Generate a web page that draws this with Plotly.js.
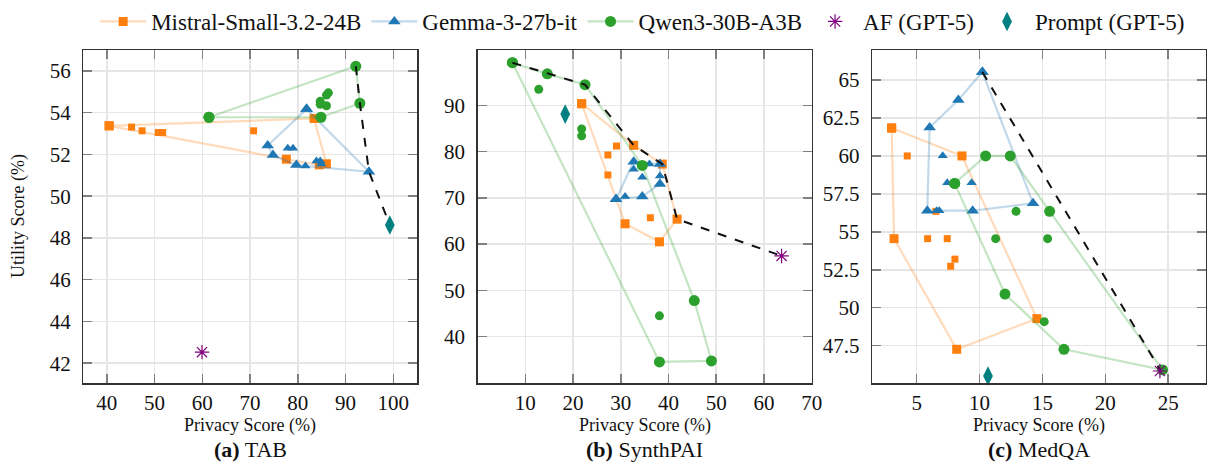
<!DOCTYPE html>
<html>
<head>
<meta charset="utf-8">
<script src="https://cdn.plot.ly/plotly-3.0.1.min.js"></script>
<style>html,body{margin:0;padding:0;background:#fff;}#chart{width:1208px;height:466px;}</style>
</head>
<body>
<div id="chart"></div>
<script>
// ---------- data ----------
const modelNames = ["Mistral-Small-3.2-24B", "Gemma-3-27b-it", "Qwen3-30B-A3B"];
const panelTitles = ["TAB", "SynthPAI", "MedQA"];
const panelLetters = ["(a)", "(b)", "(c)"];

// Panel (a) TAB
const tabMistralHullX = [40.5, 83.4, 86.0, 84.5, 77.6, 40.5];
const tabMistralHullY = [53.37, 53.72, 51.55, 51.5, 51.77, 53.37];
const tabMistralInX = [45.2, 47.4, 50.8, 51.7, 70.75];
const tabMistralInY = [53.31, 53.13, 53.05, 53.05, 53.13];
const tabGemmaHullX = [81.84, 94.9, 79.7, 74.8, 73.7, 81.84];
const tabGemmaHullY = [54.17, 51.17, 51.49, 51.97, 52.43, 54.17];
const tabGemmaInX = [77.9, 79.0, 81.6, 83.9, 84.7, 84.9];
const tabGemmaInY = [52.29, 52.29, 51.45, 51.69, 51.69, 51.54];
const tabQwenHullX = [61.4, 92.15, 93.0, 84.85, 61.4];
const tabQwenHullY = [53.78, 56.22, 54.45, 53.78, 53.78];
const tabQwenInX = [84.7, 84.7, 86.0, 86.0, 86.4];
const tabQwenInY = [54.54, 54.4, 54.33, 54.84, 54.95];
const tabFrontX = [92.15, 93.0, 94.9, 99.27];
const tabFrontY = [56.22, 54.45, 51.17, 48.62];
const tabAF = [59.94, 42.53];
const tabPrompt = [99.27, 48.62];

// Panel (b) SynthPAI
const spMistralHullX = [21.8, 32.7, 38.7, 41.8, 38.1, 30.9, 21.8];
const spMistralHullY = [90.35, 81.36, 77.3, 65.4, 60.5, 64.4, 90.35];
const spMistralInX = [29.1, 27.3, 27.3, 36.2];
const spMistralInY = [81.2, 79.27, 74.95, 65.7];
const spGemmaHullX = [29.0, 32.7, 38.2, 38.2, 34.5, 29.0];
const spGemmaHullY = [69.7, 77.8, 77.3, 73.0, 70.3, 69.7];
const spGemmaInX = [32.7, 36.0, 34.5, 38.2, 30.9];
const spGemmaInY = [76.2, 77.3, 74.45, 74.7, 70.3];
const spQwenHullX = [7.29, 14.6, 22.5, 34.5, 45.4, 49.0, 38.1, 7.29];
const spQwenHullY = [99.2, 96.8, 94.45, 77.0, 47.8, 34.77, 34.55, 99.2];
const spQwenInX = [12.8, 21.8, 21.8, 38.1];
const spQwenInY = [93.45, 84.9, 83.4, 44.5];
const spFrontX = [7.29, 22.5, 32.7, 38.7, 41.8, 63.7];
const spFrontY = [99.2, 94.45, 81.36, 77.3, 65.4, 57.45];
const spAF = [63.7, 57.45];
const spPrompt = [18.35, 88.1];

// Panel (c) MedQA
const mqMistralHullX = [3.01, 8.6, 14.56, 8.18, 3.2, 3.01];
const mqMistralHullY = [61.84, 60.0, 49.28, 47.26, 54.55, 61.84];
const mqMistralInX = [4.25, 5.87, 7.43, 8.04, 7.7, 6.53];
const mqMistralInY = [60.0, 54.55, 54.55, 53.2, 52.73, 56.35];
const mqGemmaHullX = [10.22, 14.25, 9.45, 5.84, 6.03, 8.31, 10.22];
const mqGemmaHullY = [65.53, 56.88, 56.39, 56.39, 61.88, 63.68, 65.53];
const mqGemmaInX = [7.07, 7.43, 9.37, 6.59, 6.8];
const mqGemmaInY = [60.01, 58.24, 58.24, 56.39, 56.39];
const mqQwenHullX = [8.02, 10.48, 12.44, 15.57, 24.55, 16.71, 12.02, 8.02];
const mqQwenHullY = [58.19, 60.0, 60.0, 56.35, 45.9, 47.26, 50.9, 58.19];
const mqQwenInX = [12.9, 11.28, 15.41, 15.14];
const mqQwenInY = [56.35, 54.55, 54.55, 49.08];
const mqFrontX = [10.22, 24.4];
const mqFrontY = [65.53, 45.85];
const mqAF = [24.34, 45.83];
const mqPrompt = [10.67, 45.5];

// axis ticks
const tabXTicks = [40, 50, 60, 70, 80, 90, 100];
const tabYTicks = [42, 44, 46, 48, 50, 52, 54, 56];
const spXTicks = [10, 20, 30, 40, 50, 60, 70];
const spYTicks = [40, 50, 60, 70, 80, 90];
const mqXTicks = [5, 10, 15, 20, 25];
const mqYTicks = [47.5, 50, 52.5, 55, 57.5, 60, 62.5, 65];
const mqYTickText = ["47.5", "50", "52.5", "55", "57.5", "60", "62.5", "65"];

// ---------- styles ----------
const FONT = "Liberation Serif, Times New Roman, serif";
const colors = ["#ff7f0e", "#1f77b4", "#2ca02c"];
const lineColors = ["rgba(255,127,14,0.28)", "rgba(31,119,180,0.28)", "rgba(44,160,44,0.28)"];
const symbols = ["square", "triangle-up", "circle"];
const hullSizes = [9, 11, 11];
const inSizes = [7, 9, 9];

const panels = [
  {xa: "x", ya: "y", models: [[tabMistralHullX, tabMistralHullY, tabMistralInX, tabMistralInY], [tabGemmaHullX, tabGemmaHullY, tabGemmaInX, tabGemmaInY], [tabQwenHullX, tabQwenHullY, tabQwenInX, tabQwenInY]], front: [tabFrontX, tabFrontY], af: tabAF, prompt: tabPrompt},
  {xa: "x2", ya: "y2", models: [[spMistralHullX, spMistralHullY, spMistralInX, spMistralInY], [spGemmaHullX, spGemmaHullY, spGemmaInX, spGemmaInY], [spQwenHullX, spQwenHullY, spQwenInX, spQwenInY]], front: [spFrontX, spFrontY], af: spAF, prompt: spPrompt},
  {xa: "x3", ya: "y3", models: [[mqMistralHullX, mqMistralHullY, mqMistralInX, mqMistralInY], [mqGemmaHullX, mqGemmaHullY, mqGemmaInX, mqGemmaInY], [mqQwenHullX, mqQwenHullY, mqQwenInX, mqQwenInY]], front: [mqFrontX, mqFrontY], af: mqAF, prompt: mqPrompt}
];

const traces = [];
panels.forEach((p, pi) => {
  p.models.forEach((m, mi) => {
    traces.push({
      type: "scatter", mode: "lines+markers", x: m[0], y: m[1], xaxis: p.xa, yaxis: p.ya,
      name: modelNames[mi], legendgroup: modelNames[mi], showlegend: pi === 0,
      line: {color: lineColors[mi], width: 2.2},
      marker: {color: colors[mi], symbol: symbols[mi], size: hullSizes[mi]},
      cliponaxis: false, hoverinfo: "skip"
    });
    traces.push({
      type: "scatter", mode: "markers", x: m[2], y: m[3], xaxis: p.xa, yaxis: p.ya,
      name: modelNames[mi], legendgroup: modelNames[mi], showlegend: false,
      marker: {color: colors[mi], symbol: symbols[mi], size: inSizes[mi]},
      cliponaxis: false, hoverinfo: "skip"
    });
  });
  traces.push({
    type: "scatter", mode: "lines", x: p.front[0], y: p.front[1], xaxis: p.xa, yaxis: p.ya,
    showlegend: false, line: {color: "#111", width: 2, dash: "dash"}, hoverinfo: "skip"
  });
  traces.push({
    type: "scatter", mode: "markers", x: [p.af[0]], y: [p.af[1]], xaxis: p.xa, yaxis: p.ya,
    name: "AF (GPT-5)", legendgroup: "af", showlegend: pi === 0,
    marker: {color: "#800080", symbol: "asterisk-open", size: 12, line: {color: "#800080", width: 1.2}},
    cliponaxis: false, hoverinfo: "skip"
  });
  traces.push({
    type: "scatter", mode: "markers", x: [p.prompt[0]], y: [p.prompt[1]], xaxis: p.xa, yaxis: p.ya,
    name: "Prompt (GPT-5)", legendgroup: "prompt", showlegend: pi === 0,
    marker: {color: "#008080", symbol: "diamond-tall", size: 14},
    cliponaxis: false, hoverinfo: "skip"
  });
});

function ax(domain, range, ticks, text, isY) {
  return {
    domain: domain, range: range, tickvals: ticks, ticktext: text || ticks.map(String),
    ticks: "inside", ticklen: 9, tickwidth: 1.5, tickcolor: "#808080",
    showline: true, linecolor: "#333", linewidth: 1.5, mirror: "ticks",
    showgrid: true, gridcolor: "#e6e6e6", gridwidth: 1.5, zeroline: false,
    ticklabelstandoff: isY ? 7 : 0,
    tickfont: {family: FONT, size: 21, color: "#111"}, fixedrange: true
  };
}
const yT = [0.1775, 0.8927];

const layout = {
  width: 1208, height: 466,
  margin: {l: 0, r: 0, t: 0, b: 0, autoexpand: false},
  paper_bgcolor: "#fff", plot_bgcolor: "#fff",
  font: {family: FONT, color: "#111"},
  showlegend: true,
  legend: {orientation: "h", x: 0.532, xanchor: "center", y: 1.0, yanchor: "top",
           font: {family: FONT, size: 23, color: "#111"}, itemwidth: 46, tracegroupgap: 0, bgcolor: "rgba(0,0,0,0)"},
  xaxis: Object.assign(ax([0.0690, 0.3452], [35.1, 104.96], tabXTicks), {anchor: "y"}),
  yaxis: Object.assign(ax(yT, [41.04, 57.0], tabYTicks, null, true), {anchor: "x"}),
  xaxis2: Object.assign(ax([0.3954, 0.6719], [0, 70], spXTicks), {anchor: "y2"}),
  yaxis2: Object.assign(ax(yT, [29.93, 101.95], spYTicks, null, true), {anchor: "x2"}),
  xaxis3: Object.assign(ax([0.7221, 0.9983], [1.47, 28.0], mqXTicks), {anchor: "y3"}),
  yaxis3: Object.assign(ax(yT, [45.02, 66.98], mqYTicks, mqYTickText, true), {anchor: "x3"}),
  annotations: []
};

const centers = [(0.0690 + 0.3452) / 2, (0.3954 + 0.6719) / 2, (0.7221 + 0.9983) / 2];
centers.forEach((c, i) => {
  layout.annotations.push({xref: "paper", yref: "paper", x: c, y: 1 - 425 / 466, xanchor: "center", yanchor: "middle",
    text: "Privacy Score (%)", showarrow: false, font: {family: FONT, size: 18, color: "#111"}});
  layout.annotations.push({xref: "paper", yref: "paper", x: c, y: 1 - 449 / 466, xanchor: "center", yanchor: "middle",
    text: "<b>" + panelLetters[i] + "</b> " + panelTitles[i], showarrow: false, font: {family: FONT, size: 22, color: "#111"}});
});
layout.annotations.push({xref: "paper", yref: "paper", x: 18 / 1208, y: 1 - 216 / 466, xanchor: "center", yanchor: "middle",
  text: "Utility Score (%)", textangle: -90, showarrow: false, font: {family: FONT, size: 18, color: "#111"}});

Plotly.newPlot("chart", traces, layout, {staticPlot: true, displayModeBar: false});
</script>
</body>
</html>
